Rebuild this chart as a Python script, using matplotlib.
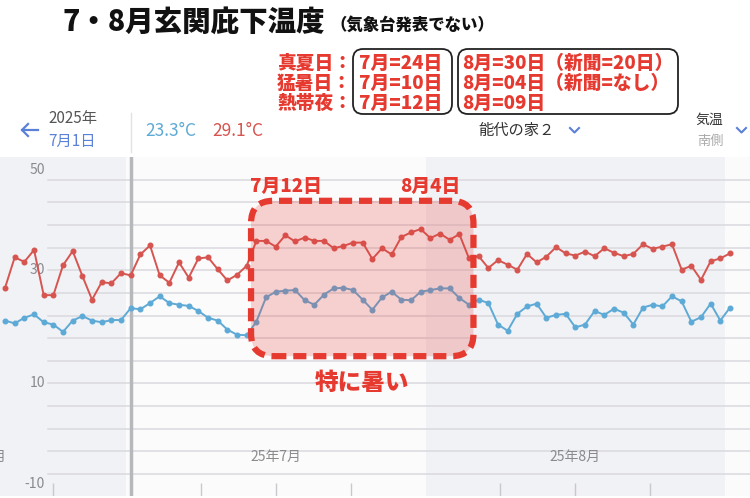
import matplotlib
matplotlib.use('Agg')
import matplotlib.pyplot as plt
import matplotlib.dates as mdates
from matplotlib.patches import FancyBboxPatch
import numpy as np
import pandas as pd

plt.rcParams['font.family'] = ['Noto Sans CJK JP', 'DejaVu Sans']

# daily max / min at the porch, 2025-06-18 .. 2025-09-01
days = pd.date_range('2025-06-18', '2025-09-01', freq='D')
t_max = [26.9, 32.3, 31.5, 33.6, 25.6, 25.6, 30.9, 33.4, 29.0, 24.8, 27.9, 27.7, 29.5,
         29.1, 32.8, 34.4, 29.1, 27.8, 31.4, 28.7, 32.1, 32.3, 30.2, 28.2, 29.2, 30.8,
         35.2, 35.2, 34.2, 36.2, 35.1, 35.8, 35.2, 35.2, 33.9, 34.3, 34.9, 34.9, 32.0,
         33.9, 32.8, 35.9, 36.7, 37.3,
         35.7, 36.5, 35.4, 36.4, 32.1, 32.5, 30.4, 31.8, 31.0, 30.1, 32.9, 31.4, 32.4,
         34.1, 33.0, 32.6, 33.3, 32.5, 33.9, 33.1, 32.5, 32.9, 34.6, 33.8, 34.2, 34.6,
         30.1, 30.8, 28.3, 31.6, 32.1, 33.0]
t_min = [21.1, 20.6, 21.6, 22.2, 20.8, 20.4, 19.1, 21.1, 21.9, 21.1, 20.8, 21.2, 21.2,
         23.3, 23.1, 24.2, 25.4, 24.2, 23.9, 23.7, 22.8, 21.6, 21.1, 19.5, 18.6, 18.5,
         20.9, 25.2, 26.2, 26.4, 26.5, 24.7, 23.9, 25.7, 26.8, 26.9, 26.5, 24.8, 23.0,
         25.2, 26.2, 24.8, 24.7, 26.2,
         26.5, 26.8, 26.8, 25.1, 23.9, 24.8, 24.2, 20.4, 19.3, 22.3, 23.6, 24.1, 21.6,
         22.1, 22.3, 19.9, 20.4, 22.8, 22.1, 23.2, 22.5, 20.4, 23.4, 23.9, 23.6, 25.4,
         24.5, 20.9, 21.7, 24.1, 21.1, 23.4]

selected = pd.Timestamp('2025-07-01')
month_starts = pd.to_datetime(['2025-06-01', '2025-07-01', '2025-08-01', '2025-09-01', '2025-10-01'])
month_labels = ['25年6月', '25年7月', '25年8月', '']
y_labels = [-10, 10, 30, 50]

summary_rows = ['真夏日：', '猛暑日：', '熱帯夜：']
july_counts = ['7月=24日', '7月=10日', '7月=12日']
aug_counts = ['8月=30日（新聞=20日）', '8月=04日（新聞=なし）', '8月=09日']

RED = '#d65550'
BLUE = '#5eaad6'
ANN = '#e6392f'
GRAY_TXT = '#8a8a8e'
LINKBLUE = '#5b80d8'

fig = plt.figure(figsize=(7.5, 4.98), dpi=100)

# ---- main chart ----
ax = fig.add_axes([0, 1.7 / 498, 1, 339 / 498])
x = mdates.date2num(days) + 0.5
x0 = mdates.date2num(selected) + 0.5
ppd = 9.666  # pixels per day
ax.set_xlim(x0 - 130.7 / ppd, x0 + (750 - 130.7) / ppd)
ax.set_ylim(-10, 50)
ax.set_axis_off()

ms = mdates.date2num(month_starts)
for i in range(len(ms) - 1):
    ax.axvspan(ms[i], ms[i + 1], color='#f1f2f5' if i % 2 == 0 else '#fbfbfc', lw=0, zorder=0)
    n = ms[i + 1] - ms[i]
    for k in (1, 2, 3):
        ax.vlines(ms[i] + k * n / 4, -10, -7.6, color='#c9c9cd', lw=1, zorder=1)
    if month_labels[i]:
        ax.text(ms[i] + n / 2, -3, month_labels[i], ha='center', va='center',
                color=GRAY_TXT, fontsize=10)

for g in np.arange(-6, 50, 4):
    ax.axhline(g, xmin=48 / 750, color='#dadade', lw=1.1, zorder=1)

ax.axvline(x0, color='#b7b8bc', lw=2.5, zorder=2)

ax.plot(x, t_max, color=RED, lw=1.4, marker='o', ms=3.3, zorder=4)
ax.plot(x, t_min, color=BLUE, lw=1.4, marker='o', ms=3.3, zorder=4)

for v in y_labels:
    off = -13 if v == 50 else (12 if v == -10 else 0)
    ax.annotate(str(v), xy=(45 / 750, v), xycoords=('axes fraction', 'data'),
                xytext=(0, off), textcoords='offset pixels', ha='right', va='center',
                color=GRAY_TXT, fontsize=10, zorder=3)

# hot period highlight
left, right = x0 + 12.45, x0 + 35.46
bottom, top = 14.8, 42.3
asp = 9.666 / 5.633
box = FancyBboxPatch((left, bottom), right - left, top - bottom,
                     boxstyle='round,pad=0,rounding_size=2.3', mutation_aspect=asp,
                     fc=(0.91, 0.22, 0.2, 0.22), ec=ANN, lw=4.5,
                     ls=(0, (2.1, 1.1)), zorder=5)
ax.add_patch(box)
ax.text(left - 0.1, 44.9, '7月12日', color=ANN, fontsize=13.5, fontweight='heavy',
        ha='left', va='center', zorder=6)
ax.text(x0 + 34.07, 44.9, '8月4日', color=ANN, fontsize=13.5, fontweight='heavy',
        ha='right', va='center', zorder=6)
ax.text(x0 + 23.9, 10.1, '特に暑い', color=ANN, fontsize=17, fontweight='heavy',
        ha='center', va='center', zorder=6)

# ---- header (pixel coords) ----
hd = fig.add_axes([0, 0, 1, 1])
hd.set_xlim(0, 750)
hd.set_ylim(498, 0)
hd.set_axis_off()

hd.text(62, 22, '7・8月玄関庇下温度', fontsize=20.5, fontweight='heavy', color='#111',
        ha='left', va='center')
hd.text(330, 25, '（気象台発表でない）', fontsize=11.8, fontweight='heavy', color='#111',
        ha='left', va='center')

for i in range(3):
    yy = 63 + 20 * i
    hd.text(352, yy, summary_rows[i], color=ANN, fontsize=13.5, fontweight='heavy',
            ha='right', va='center')
    hd.text(359, yy, july_counts[i], color=ANN, fontsize=13.5, fontweight='heavy', va='center')
    hd.text(462, yy, aug_counts[i], color=ANN, fontsize=13.5, fontweight='heavy', va='center')
for bx0, bx1 in [(353, 452), (458, 678)]:
    hd.add_patch(FancyBboxPatch((bx0, 49), bx1 - bx0, 65,
                                boxstyle='round,pad=0,rounding_size=10',
                                fc='none', ec='#222', lw=1.3))

# back arrow
hd.plot([22, 38], [130, 130], color=LINKBLUE, lw=1.6)
hd.plot([28, 22, 28], [124, 130, 136], color=LINKBLUE, lw=1.6)
hd.text(48, 118, '2025年', color='#555', fontsize=11, va='center')
hd.text(48, 141, '7月1日', color=LINKBLUE, fontsize=11, va='center')
hd.plot([131, 131], [113, 152], color='#e2e2e4', lw=1)

i_sel = list(days).index(selected)
hd.text(145, 131, f'{t_min[i_sel]}°C', color=BLUE, fontsize=12.5, va='center')
hd.text(212, 131, f'{t_max[i_sel]}°C', color=RED, fontsize=12.5, va='center')

hd.text(478, 130, '能代の家２', color='#333', fontsize=11, va='center')
hd.plot([570, 574.5, 579], [128, 132.5, 128], color=LINKBLUE, lw=1.5)
hd.text(709, 120, '気温', color='#333', fontsize=10, ha='center', va='center')
hd.text(710, 141, '南側', color='#aaa', fontsize=9.5, ha='center', va='center')
hd.plot([737, 741.5, 746], [128, 132.5, 128], color=LINKBLUE, lw=1.5)

fig.savefig('out.png', dpi=100)
